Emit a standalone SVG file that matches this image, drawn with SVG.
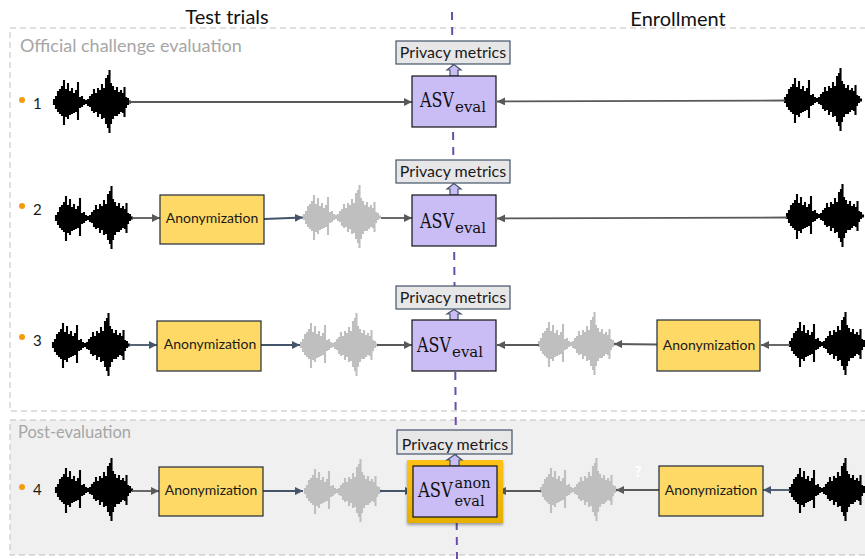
<svg xmlns="http://www.w3.org/2000/svg" width="865" height="559" viewBox="0 0 865 559">
<style>
text{font-family:"Lato","Open Sans","Liberation Sans",sans-serif}
.region{fill:none;stroke:#bfbfbf;stroke-width:1;stroke-dasharray:6 4}
.anon rect{fill:#ffd966;stroke:#1f2a38;stroke-width:1.2}
.anon text{font-size:14px;fill:#1a1a1a;text-anchor:middle}
.pm rect{fill:#e7e7e7;stroke:#44546a;stroke-width:1.2}
.pm text{font-size:16px;fill:#1a1a1a;text-anchor:middle}
.asv rect{fill:#cabdf5;stroke:#111;stroke-width:1.2}
.asv text{font-family:"DejaVu Serif","Liberation Serif",serif;fill:#111;font-size:15px}
.asv .big{font-size:21px}
.asv .sup{font-size:14.500px}
.up{fill:#cabdf5;stroke:#44546a;stroke-width:1.2}
.c{fill:none;stroke:#595959;stroke-width:1.8;marker-end:url(#a)}
.s{fill:none;stroke:#44546a;stroke-width:1.8;marker-end:url(#b)}
.k{stroke:#000}
.g{stroke:#bfbfbf}
.num{font-size:15px;fill:#1a1a1a}
.dot{fill:#f59a0c}
</style>
<defs>
<marker id="a" markerUnits="userSpaceOnUse" markerWidth="10" markerHeight="10" refX="8" refY="4" orient="auto"><path d="M0 0L8 4L0 8z" fill="#595959"/></marker>
<marker id="b" markerUnits="userSpaceOnUse" markerWidth="10" markerHeight="10" refX="8" refY="4" orient="auto"><path d="M0 0L8 4L0 8z" fill="#44546a"/></marker>
<linearGradient id="gold" x1="0" y1="0" x2="0" y2="1"><stop offset="0" stop-color="#ffc21a"/><stop offset="1" stop-color="#e5b000"/></linearGradient>
<filter id="sh" x="-20%" y="-20%" width="140%" height="140%"><feDropShadow dx="0" dy="2" stdDeviation="1.500" flood-color="#000" flood-opacity=".35"/></filter>
<path id="w" fill="none" stroke-width="2.100" d="M0 -3V3M2 -6V7M4 -11V10M6 -13V12M8 -16V14M10 -22V23M12 -13V15M14 -19V17M16 -11V13M18 -14V12M20 -9V11M22 -12V10M24 -20V18M26 -5V6M28 -6V5M30 -3V3M32 -2V2M34 -3V4M36 -6V5M38 -8V9M40 -13V11M42 -9V10M44 -14V15M46 -12V12M48 -18V17M50 -14V16M52 -24V22M54 -27V26M55.500 -32V31M57 -19V22M59 -16V17M61 -12V14M63 -15V14M65 -10V12M67 -12V10M69 -9V11M70.500 -15V15M72 -5V6M74 -4V3M76 -1.500V1.500"/>
</defs>
<rect width="865" height="559" fill="#fff"/>
<g id="regions">
<path class="region" d="M866 28H10V411H866"/>
<path d="M866 420H10V555H866z" fill="#f0f0f0"/>
<path class="region" d="M866 420H10V555H866"/>
</g>
<text x="227" y="24" font-size="20" text-anchor="middle" fill="#111">Test trials</text>
<text x="678" y="26" font-size="20" text-anchor="middle" fill="#111">Enrollment</text>
<text x="20" y="52" font-size="18" fill="#a6a6a6">Official challenge evaluation</text>
<text x="18" y="438" font-size="16.500" fill="#a6a6a6">Post-evaluation</text>
<path id="axis" d="M452 12L457 559" fill="none" stroke="#6a4fa8" stroke-width="2" stroke-dasharray="8 7"/>
<g id="row-labels">
<circle class="dot" cx="22" cy="100" r="3"/><text class="num" x="33" y="109">1</text>
<circle class="dot" cx="22" cy="206" r="3"/><text class="num" x="33" y="215">2</text>
<circle class="dot" cx="22" cy="337" r="3"/><text class="num" x="33" y="346">3</text>
<circle class="dot" cx="22" cy="487" r="3"/><text class="num" x="33" y="495">4</text>
</g>
<g id="waveforms">
<use href="#w" class="k" x="54" y="102"/><use href="#w" class="k" x="785" y="100"/>
<use href="#w" class="k" x="56" y="218"/><use href="#w" class="g" x="304" y="217"/><use href="#w" class="k" x="787" y="216"/>
<use href="#w" class="k" x="53" y="345"/><use href="#w" class="g" x="301" y="345"/><use href="#w" class="g" x="539" y="344"/><use href="#w" class="k" x="790" y="344"/>
<use href="#w" class="k" x="56" y="490"/><use href="#w" class="g" x="305" y="491"/><use href="#w" class="g" x="541" y="490"/><use href="#w" class="k" x="790" y="490"/>
</g>
<g id="connectors">
<path class="c" d="M129 102H412"/><path class="c" d="M785 100.500L497 101.500"/>
<path class="c" d="M132 218H160"/><path class="s" d="M264 219L303 217.500"/><path class="c" d="M381 218H412"/><path class="c" d="M787 217.500L497 218.500"/>
<path class="s" d="M129 345H157"/><path class="s" d="M261 345H300"/><path class="c" d="M377 345H412"/><path class="c" d="M539 345H497"/><path class="c" d="M657 344.500L614 344"/><path class="c" d="M790 345H761"/>
<path class="c" d="M132 491H159"/><path class="s" d="M263 491H303"/><path class="s" d="M380 491H413"/><path class="c" d="M541 491H498"/><path class="c" d="M659 490H616"/><path class="s" d="M790 490H763"/>
</g>
<g id="asv4-glow"><rect x="407" y="460" width="96" height="63" fill="url(#gold)" filter="url(#sh)"/></g>
<g id="up-arrows">
<path class="up" d="M450 76V70H447L454 64.500L461 70H458V76z"/>
<path class="up" d="M450 195V189H447L454 183.500L461 189H458V195z"/>
<path class="up" d="M450 320V314H447L454 309.500L461 314H458V320z"/>
<path class="up" d="M450 466V460H447L455 454.500L462 460H459V466z"/>
</g>
<g id="pm1" class="pm"><rect x="396" y="41" width="114" height="23"/><text x="453" y="58">Privacy metrics</text></g>
<g id="pm2" class="pm"><rect x="396" y="160" width="114" height="23"/><text x="453" y="177">Privacy metrics</text></g>
<g id="pm3" class="pm"><rect x="396" y="286" width="114" height="23"/><text x="453" y="303">Privacy metrics</text></g>
<g id="pm4" class="pm"><rect x="397" y="430" width="115" height="24"/><text x="455" y="450">Privacy metrics</text></g>
<g id="asv1" class="asv"><rect x="412" y="76" width="84" height="51"/><text class="big" transform="translate(420 107) scale(.76 1)">ASV</text><text x="455" y="112">eval</text></g>
<g id="asv2" class="asv"><rect x="412" y="195" width="84" height="51"/><text class="big" transform="translate(420 228) scale(.76 1)">ASV</text><text x="455" y="233">eval</text></g>
<g id="asv3" class="asv"><rect x="412" y="320" width="84" height="51"/><text class="big" transform="translate(417 352) scale(.76 1)">ASV</text><text x="452" y="357">eval</text></g>
<g id="asv4" class="asv"><rect x="413" y="466" width="84" height="51"/><text class="big" transform="translate(418 497) scale(.78 1)">ASV</text><text class="sup" x="454.500" y="488">anon</text><text class="sup" x="454.500" y="505.500">eval</text></g>
<g id="anon-2" class="anon"><rect x="160" y="195" width="104" height="49"/><text x="212" y="223">Anonymization</text></g>
<g id="anon-3l" class="anon"><rect x="157" y="321" width="104" height="50"/><text x="210" y="349">Anonymization</text></g>
<g id="anon-3r" class="anon"><rect x="657" y="320" width="103" height="51"/><text x="709" y="350">Anonymization</text></g>
<g id="anon-4l" class="anon"><rect x="159" y="467" width="104" height="49"/><text x="211" y="495">Anonymization</text></g>
<g id="anon-4r" class="anon"><rect x="659" y="466" width="104" height="50"/><text x="711" y="495">Anonymization</text></g>
<text x="638" y="477" font-size="16" font-weight="700" fill="#fff" text-anchor="middle">?</text>
</svg>
